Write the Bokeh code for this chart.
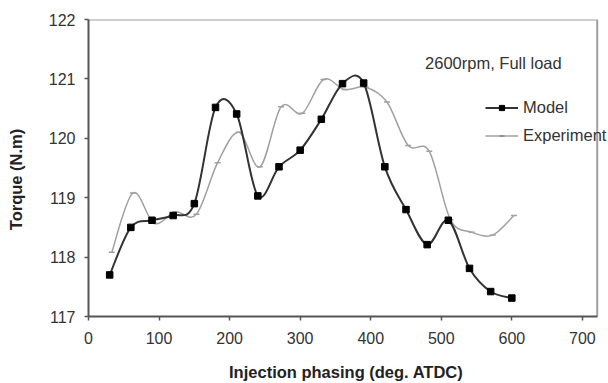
from bokeh.plotting import figure
from bokeh.models import Range1d, Legend, LegendItem, Label, ColumnDataSource, FixedTicker
from bokeh.embed import file_html
from bokeh.resources import INLINE

# Data
model_x = [30, 60, 90, 120, 150, 180, 210, 240, 270, 300, 330, 360, 390, 420, 450, 480, 510, 540, 570, 600]
model_y = [117.7, 118.5, 118.62, 118.7, 118.9, 120.52, 120.41, 119.03, 119.52, 119.8, 120.32, 120.92, 120.93, 119.52,
           118.8, 118.21, 118.62, 117.81, 117.42, 117.31]
exp_x = [33, 63, 93, 123, 153, 183, 213, 243, 273, 303, 333, 363, 393, 423, 453, 483, 513, 543, 573, 603]
exp_y = [118.08, 119.08, 118.57, 118.76, 118.72, 119.59, 120.1, 119.52, 120.53, 120.42, 120.99, 120.82, 120.86,
         120.61, 119.88, 119.78, 118.63, 118.42, 118.37, 118.7]
x_ticks = [0, 100, 200, 300, 400, 500, 600, 700]
y_ticks = [117, 118, 119, 120, 121, 122]
annotation = "2600rpm, Full load"
series_names = ["Model", "Experiment"]

FONT = "Liberation Sans"
X_AXIS_END = 721   # right edge of the drawn plot box (data units)
X_VIEW_END = 737   # view extends a bit further so the legend text is not clipped


def smooth_segments(xs, ys, t=1.0 / 6.0):
    n = len(xs)
    x0, y0, x1, y1, cx0, cy0, cx1, cy1 = [], [], [], [], [], [], [], []
    for i in range(n - 1):
        a = max(i - 1, 0)
        d = min(i + 2, n - 1)
        x0.append(xs[i]); y0.append(ys[i])
        x1.append(xs[i + 1]); y1.append(ys[i + 1])
        cx0.append(xs[i] + (xs[i + 1] - xs[a]) * t)
        cy0.append(ys[i] + (ys[i + 1] - ys[a]) * t)
        cx1.append(xs[i + 1] - (xs[d] - xs[i]) * t)
        cy1.append(ys[i + 1] - (ys[d] - ys[i]) * t)
    return ColumnDataSource(dict(x0=x0, y0=y0, x1=x1, y1=y1, cx0=cx0, cy0=cy0, cx1=cx1, cy1=cy1))


y_min, y_max = y_ticks[0], y_ticks[-1]
p = figure(width=608, height=383, output_backend="svg", toolbar_location=None,
           x_range=Range1d(0, X_VIEW_END), y_range=Range1d(y_min, y_max),
           min_border_left=88, min_border_right=0, min_border_top=19, min_border_bottom=67)
p.grid.visible = False
p.background_fill_color = "white"
p.border_fill_color = "white"
p.outline_line_color = None

# plot box top and right edges
p.segment(x0=[0, X_AXIS_END], y0=[y_max, y_min], x1=[X_AXIS_END, X_AXIS_END], y1=[y_max, y_max],
          line_color="#a0a0a0", line_width=2)

model_color = "#333333"
exp_color = "#a0a0a0"

p.bezier(x0="x0", y0="y0", x1="x1", y1="y1", cx0="cx0", cy0="cy0", cx1="cx1", cy1="cy1",
         source=smooth_segments(exp_x, exp_y), line_color=exp_color, line_width=1.5)
p.scatter(exp_x, exp_y, marker="dash", size=6, line_color=exp_color, line_width=1.5)
p.bezier(x0="x0", y0="y0", x1="x1", y1="y1", cx0="cx0", cy0="cy0", cx1="cx1", cy1="cy1",
         source=smooth_segments(model_x, model_y), line_color=model_color, line_width=2)
p.scatter(model_x, model_y, marker="square", size=6.5, fill_color="black", line_color="black")

# legend proxies (a single off-view point each)
off = [-1000]
lm = p.line(off, off, line_color=model_color, line_width=2)
sm = p.scatter(off, off, marker="square", size=6, fill_color="black", line_color="black")
le = p.line(off, off, line_color=exp_color, line_width=1.5)
se = p.scatter(off, off, marker="dash", size=6, line_color="#888888", line_width=1.5)
legend = Legend(items=[LegendItem(label=series_names[0], renderers=[lm, sm]),
                       LegendItem(label=series_names[1], renderers=[le, se])],
                location=(397, 171), orientation="vertical",
                glyph_width=33, glyph_height=13, label_height=20, spacing=8, padding=0, margin=0,
                label_standoff=5, border_line_color=None, background_fill_alpha=0,
                label_text_font=FONT, label_text_font_size="16.5px", label_text_color="#333333")
p.add_layout(legend, "center")

p.add_layout(Label(x=477, y=121.26, text=annotation, text_font=FONT, text_font_size="16.5px",
                   text_color="#333333", text_baseline="middle", text_align="left"))

for ax in (p.xaxis[0], p.yaxis[0]):
    ax.axis_line_color = "#555555"
    ax.axis_line_width = 2
    ax.major_tick_line_color = "#555555"
    ax.major_tick_line_width = 1.5
    ax.major_tick_in = 0
    ax.major_tick_out = 4
    ax.minor_tick_line_color = None
    ax.major_label_text_font = FONT
    ax.major_label_text_font_size = "16px"
    ax.major_label_text_color = "#333333"
    ax.axis_label_text_font = FONT
    ax.axis_label_text_font_size = "16.5px"
    ax.axis_label_text_font_style = "bold"
    ax.axis_label_text_color = "#222222"

p.xaxis.bounds = (0, X_AXIS_END)
p.xaxis.ticker = FixedTicker(ticks=x_ticks)
p.yaxis.ticker = FixedTicker(ticks=y_ticks)
p.xaxis.axis_label = "Injection phasing  (deg. ATDC)"
p.yaxis.axis_label = "Torque (N.m)" + "\u00a0" * 5
p.xaxis.major_label_standoff = 11
p.yaxis.major_label_standoff = 9
p.xaxis.axis_label_standoff = 16
p.yaxis.axis_label_standoff = 21

open("out.html", "w").write(file_html(p, INLINE))
